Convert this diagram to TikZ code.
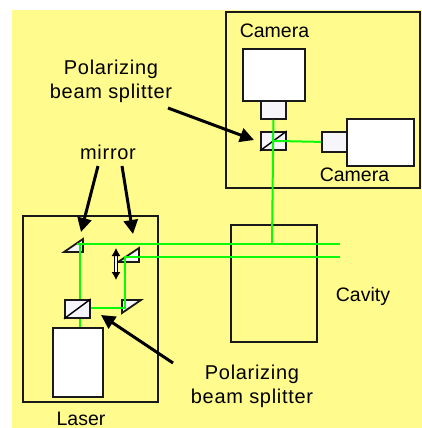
\documentclass[tikz,border=0pt]{standalone}
\usepackage{fontspec}
\setmainfont{Liberation Sans}
\newfontfamily\spaced[LetterSpace=3.5]{Liberation Sans}
\usetikzlibrary{arrows.meta}
\definecolor{bg}{RGB}{255,251,140}
\definecolor{beam}{RGB}{10,250,10}
\definecolor{lightg}{RGB}{246,246,250}
\tikzset{
  frame/.style={draw=black!90,line width=1.8pt},
  solid box/.style={draw=black!90,fill=white,line width=1.8pt},
  optic/.style={draw=black!90,fill=lightg,line width=1.8pt},
  beamline/.style={draw=beam,line width=2pt},
  pointer/.style={draw=black,line width=3pt,-{Triangle[length=14pt,width=14pt]}},
  label/.style={font=\fontsize{19.5}{24}\selectfont,align=center,text=black,inner sep=0pt},
  wide label/.style={font=\spaced\fontsize{20}{24}\selectfont,align=center,text=black,inner sep=0pt}
}
\begin{document}
\begin{tikzpicture}[x=1pt,y=-1pt]
\useasboundingbox (0,0) rectangle (422,428);
\fill[white] (0,0) rectangle (422,428);
\fill[bg] (12,10) rectangle (422,428);
% frames
\node[frame,minimum width=135pt,minimum height=186pt,anchor=north west,inner sep=0pt] (laserbox) at (22,215) {};
\node[frame,minimum width=194pt,minimum height=176pt,anchor=north west,inner sep=0pt] (cambox) at (225,11) {};
\node[frame,minimum width=86pt,minimum height=117pt,anchor=north west,inner sep=0pt] (cavity) at (230,224) {};
% coordinates
\coordinate (m1) at (80,244);
\coordinate (m2) at (125,257);
\coordinate (m3) at (125,308);
\coordinate (endA) at (340,244);
\coordinate (endB) at (340,257);
\coordinate (j) at (272,244);
% laser, cameras
\node[solid box,minimum width=50pt,minimum height=69pt,anchor=north west,inner sep=0pt] (laser) at (52,327) {};
\node[solid box,minimum width=62pt,minimum height=52pt,anchor=north west,inner sep=0pt] (cam1) at (242,48) {};
\node[optic,minimum width=25pt,minimum height=18pt,anchor=north west,inner sep=0pt] (lens1) at (260,100) {};
\node[solid box,minimum width=67pt,minimum height=47pt,anchor=north west,inner sep=0pt] (cam2) at (346,118) {};
\node[optic,minimum width=25pt,minimum height=20pt,anchor=north west,inner sep=0pt] (lens2) at (321,131) {};
\node[optic,minimum width=25pt,minimum height=18pt,anchor=north west,inner sep=0pt] (pbsB) at (260,131) {};
\node[optic,minimum width=25pt,minimum height=18pt,anchor=north west,inner sep=0pt] (pbsA) at (64,299) {};
\draw[line width=1.4pt] (pbsA.south west) -- (pbsA.north east);
\draw[line width=1.4pt] (pbsB.south west) -- (pbsB.north east);
% mirrors
\draw[optic] (64,252) -- (83,252) -- (83,239) -- cycle;
\draw[optic] (118,262) -- (139,262) -- (139,248) -- cycle;
\draw[optic] (122,300) -- (141,300) -- (122,313) -- cycle;
% beams
\draw[beamline] (laser.north -| m1) -- (pbsA.south -| m1);
\draw[beamline] (pbsA.north -| m1) -- (m1);
\draw[beamline] (77,244) -- (endA);
\draw[beamline] (pbsA.east |- m3) -- (m3) -- (m2) -- (endB);
\draw[beamline] (lens1.south) -- (j);
\draw[beamline] (pbsB.center) -- (lens2.west);
% translation arrow
\draw[draw=black,double=lightg,double distance=2pt,line width=1.1pt,{Latex[length=8pt,width=9pt]}-{Latex[length=8pt,width=9pt]}] (116,248) -- (116,280);
% pointers
\coordinate (pa1) at (168,108); \coordinate (pa2) at (254,140);
\coordinate (ma1) at (98,166); \coordinate (ma2) at (81,232);
\coordinate (mb1) at (122,166); \coordinate (mb2) at (133,234);
\coordinate (pb1) at (173,363); \coordinate (pb2) at (101,315);
\draw[pointer] (pa1) -- (pa2);
\draw[pointer] (ma1) -- (ma2);
\draw[pointer] (mb1) -- (mb2);
\draw[pointer] (pb1) -- (pb2);
% labels
\node[label] (tcam1) at (274.5,31) {Camera};
\node[label] (tcam2) at (354.5,175) {Camera};
\node[label] (tcav) at (363,296) {Cavity};
\node[label,anchor=base] (tlaser) at (81,425.5) {Laser};
\node[wide label] (tmirror) at (108,152) {mirror};
\node[wide label] (tpbs1) at (111,81) {Polarizing\\beam splitter};
\node[wide label] (tpbs2) at (252,386) {Polarizing\\beam splitter};
\end{tikzpicture}
\end{document}
